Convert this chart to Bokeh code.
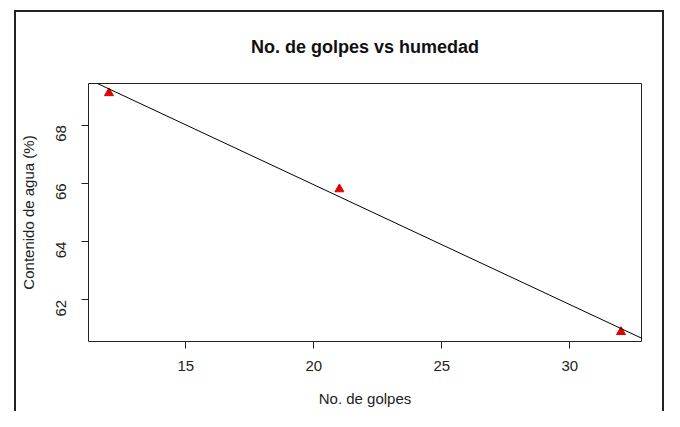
import numpy as np
from bokeh.plotting import figure
from bokeh.models import Range1d, FixedTicker, Slope
from bokeh.embed import file_html
from bokeh.resources import INLINE

# Data
golpes = [12, 21, 32]
humedad = [69.1, 65.8, 60.9]
x_ticks = [15, 20, 25, 30]
y_ticks = [62, 64, 66, 68]

# Least-squares fit (abline(lm(humedad ~ golpes)))
slope_val, intercept_val = np.polyfit(golpes, humedad, 1)

# R-style 4% range extension
def ext(vals):
    lo, hi = min(vals), max(vals)
    d = (hi - lo) * 0.04
    return lo - d, hi + d

x0, x1 = ext(golpes)
y0, y1 = ext(humedad)

FONT = "Liberation Sans"

p = figure(width=664, height=411, output_backend="svg", toolbar_location=None,
           x_range=Range1d(x0, x1), y_range=Range1d(y0, y1),
           title="No. de golpes vs humedad",
           x_axis_label="No. de golpes", y_axis_label="Contenido de agua (%)",
           min_border_left=88, min_border_right=23, min_border_top=83,
           min_border_bottom=70)

p.title.align = "center"
p.title.text_font = FONT
p.title.text_font_size = "18px"
p.title.text_font_style = "bold"
p.title.text_color = "#111111"
p.title.standoff = 54

p.grid.visible = False
p.outline_line_color = "#222222"
p.outline_line_width = 1
p.background_fill_color = "white"
p.border_fill_color = None

# Outer frame around the whole picture (drawn by the host element)
p.styles = {
    "background-color": "white",
    "box-shadow": ("inset 14px 0 0 0 white, inset 0 10px 0 0 white, "
                   "inset 16px 0 0 0 #222222, inset 0 12px 0 0 #222222, "
                   "inset -2px 0 0 0 #222222"),
}

for ax in (p.xaxis[0], p.yaxis[0]):
    ax.axis_line_color = None
    ax.major_tick_out = 7
    ax.major_tick_in = 0
    ax.minor_tick_out = 0
    ax.minor_tick_in = 0
    ax.major_tick_line_color = "#222222"
    ax.major_label_text_font = FONT
    ax.major_label_text_font_size = "15px"
    ax.major_label_text_color = "#222222"
    ax.axis_label_text_font = FONT
    ax.axis_label_text_font_size = "15px"
    ax.axis_label_text_font_style = "normal"
    ax.axis_label_text_color = "#222222"

p.xaxis[0].ticker = FixedTicker(ticks=x_ticks)
p.yaxis[0].ticker = FixedTicker(ticks=y_ticks)
p.xaxis[0].major_label_standoff = 12
p.xaxis[0].axis_label_standoff = 16
p.yaxis[0].major_label_orientation = np.pi / 2
p.yaxis[0].major_label_standoff = 20
p.yaxis[0].axis_label_standoff = 12

# Regression line
p.add_layout(Slope(gradient=slope_val, y_intercept=intercept_val,
                   line_color="black", line_width=1))

# Points
p.scatter(golpes, humedad, marker="triangle", size=9,
          fill_color="#e00000", line_color="#e00000")

open("out.html", "w").write(file_html(p, INLINE))
